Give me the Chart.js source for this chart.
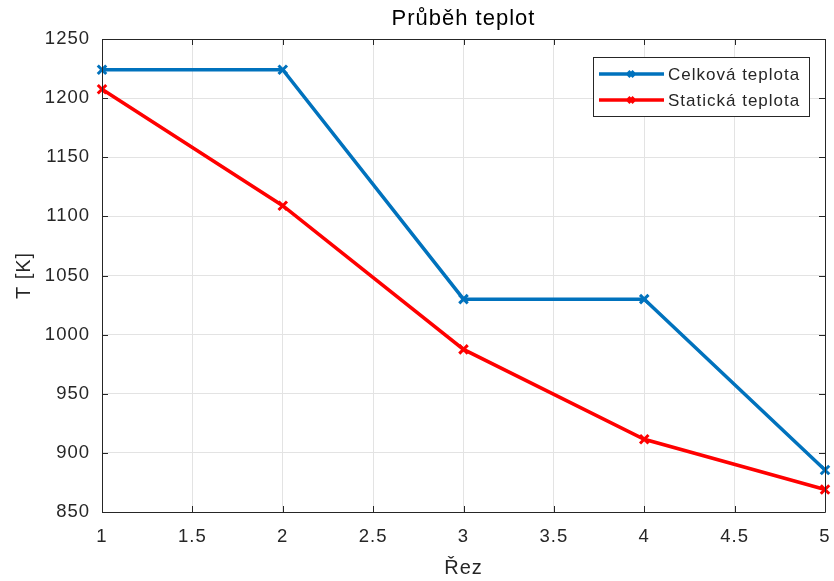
<!DOCTYPE html>
<html>
<head>
<meta charset="utf-8">
<script src="https://cdn.jsdelivr.net/npm/chart.js@4/dist/chart.umd.min.js"></script>
<style>
  html, body { margin: 0; padding: 0; background: #fff; }
  #wrap { width: 834px; height: 581px; }
</style>
</head>
<body>
<div id="wrap"><canvas id="teplotyChart" width="834" height="581"></canvas></div>
<script>
// rezy (sections) and temperatures
const rezy = [1, 2, 3, 4, 5];
const celkovaTeplota = [1224, 1224, 1030, 1030, 885.5];
const statickaTeplota = [1207.5, 1109, 987.5, 911.5, 869];
const nadpis = 'Průběh teplot';

const FONT = "'Liberation Sans', Arial, sans-serif";
const AXIS_COLOR = '#262626';

// slightly wider text, like the MATLAB export
const wideText = {
    id: 'wideText',
    beforeDraw(chart) { chart.ctx.letterSpacing = '1px'; },
    beforeLayout(chart) { chart.ctx.letterSpacing = '1px'; }
};

// MATLAB-ish box: frame around the plot area with inward ticks, title, legend inside
const matlabBox = {
    id: 'matlabBox',
    afterDatasetsDraw(chart) {
        const ctx = chart.ctx;
        const a = chart.chartArea;
        const xs = chart.scales.x, ys = chart.scales.y;
        ctx.save();
        ctx.strokeStyle = AXIS_COLOR;
        ctx.lineWidth = 1;
        ctx.beginPath();
        ctx.rect(Math.round(a.left) + 0.5, Math.round(a.top) + 0.5,
                 Math.round(a.right - a.left), Math.round(a.bottom - a.top));
        ctx.stroke();
        const tl = 6;
        ctx.beginPath();
        xs.ticks.forEach(t => {
            const px = Math.round(xs.getPixelForValue(t.value)) + 0.5;
            ctx.moveTo(px, a.bottom); ctx.lineTo(px, a.bottom - tl);
            ctx.moveTo(px, a.top); ctx.lineTo(px, a.top + tl);
        });
        ys.ticks.forEach(t => {
            const py = Math.round(ys.getPixelForValue(t.value)) + 0.5;
            ctx.moveTo(a.left, py); ctx.lineTo(a.left + tl, py);
            ctx.moveTo(a.right, py); ctx.lineTo(a.right - tl, py);
        });
        ctx.stroke();

        // title centred over the plot area
        ctx.letterSpacing = '1px';
        ctx.fillStyle = '#000';
        ctx.font = '22px ' + FONT;
        ctx.textAlign = 'center';
        ctx.textBaseline = 'middle';
        ctx.fillText(nadpis, (a.left + a.right) / 2, 19);

        // legend
        const lx = 593, ly = 57, lw = 216, lh = 59;
        ctx.fillStyle = '#fff';
        ctx.fillRect(lx, ly, lw, lh);
        ctx.strokeStyle = AXIS_COLOR;
        ctx.lineWidth = 1;
        ctx.strokeRect(lx + 0.5, ly + 0.5, lw, lh);
        ctx.font = '17px ' + FONT;
        ctx.textAlign = 'left';
        chart.data.datasets.forEach((ds, i) => {
            const y = ly + 17 + i * 26;
            ctx.strokeStyle = ds.borderColor;
            ctx.lineWidth = 3.5;
            ctx.beginPath();
            ctx.moveTo(599, y); ctx.lineTo(664, y);
            ctx.stroke();
            Chart.helpers.drawPoint(ctx, {
                pointStyle: 'crossRot', radius: 4, borderWidth: 3
            }, 631, y);
            ctx.fillStyle = AXIS_COLOR;
            ctx.fillText(ds.label, 668, y + 1);
        });
        ctx.restore();
    }
};

new Chart(document.getElementById('teplotyChart'), {
    type: 'line',
    data: {
        datasets: [
            {
                label: 'Celková teplota',
                data: rezy.map((r, i) => ({ x: r, y: celkovaTeplota[i] })),
                borderColor: '#0072BD',
                backgroundColor: '#0072BD',
                borderWidth: 3.5,
                pointStyle: 'crossRot',
                pointRadius: 6,
                pointBorderWidth: 3,
                clip: false
            },
            {
                label: 'Statická teplota',
                data: rezy.map((r, i) => ({ x: r, y: statickaTeplota[i] })),
                borderColor: '#FF0000',
                backgroundColor: '#FF0000',
                borderWidth: 3.5,
                pointStyle: 'crossRot',
                pointRadius: 6,
                pointBorderWidth: 3,
                clip: false
            }
        ]
    },
    options: {
        responsive: false,
        animation: false,
        layout: { padding: { left: 0, right: 8, top: 39, bottom: 0 } },
        plugins: {
            legend: { display: false },
            tooltip: { enabled: false },
            title: { display: false }
        },
        scales: {
            x: {
                type: 'linear',
                min: 1,
                max: 5,
                ticks: {
                    stepSize: 0.5,
                    color: AXIS_COLOR,
                    padding: 14,
                    maxRotation: 0,
                    font: { family: FONT, size: 18.5 },
                    callback: v => String(v)
                },
                grid: { color: '#e3e3e3', drawTicks: false },
                border: { display: false },
                title: {
                    display: true,
                    text: 'Řez',
                    color: AXIS_COLOR,
                    font: { family: FONT, size: 20, lineHeight: 1.2 },
                    padding: { top: 0, bottom: 1 }
                },
                afterFit(scale) {
                    scale.height = 69;
                    scale.paddingLeft = 0;
                    scale.paddingRight = 0;
                }
            },
            y: {
                min: 850,
                max: 1250,
                ticks: {
                    stepSize: 50,
                    color: AXIS_COLOR,
                    padding: 12,
                    font: { family: FONT, size: 18.5 },
                    callback: v => String(v)
                },
                grid: { color: '#e3e3e3', drawTicks: false },
                border: { display: false },
                title: {
                    display: true,
                    text: 'T [K]',
                    color: AXIS_COLOR,
                    font: { family: FONT, size: 20, lineHeight: 1.2 },
                    padding: { top: 12, bottom: 0 }
                },
                afterFit(scale) {
                    scale.width = 102;
                    scale.paddingTop = 0;
                    scale.paddingBottom = 0;
                }
            }
        }
    },
    plugins: [wideText, matlabBox]
});
</script>
</body>
</html>
